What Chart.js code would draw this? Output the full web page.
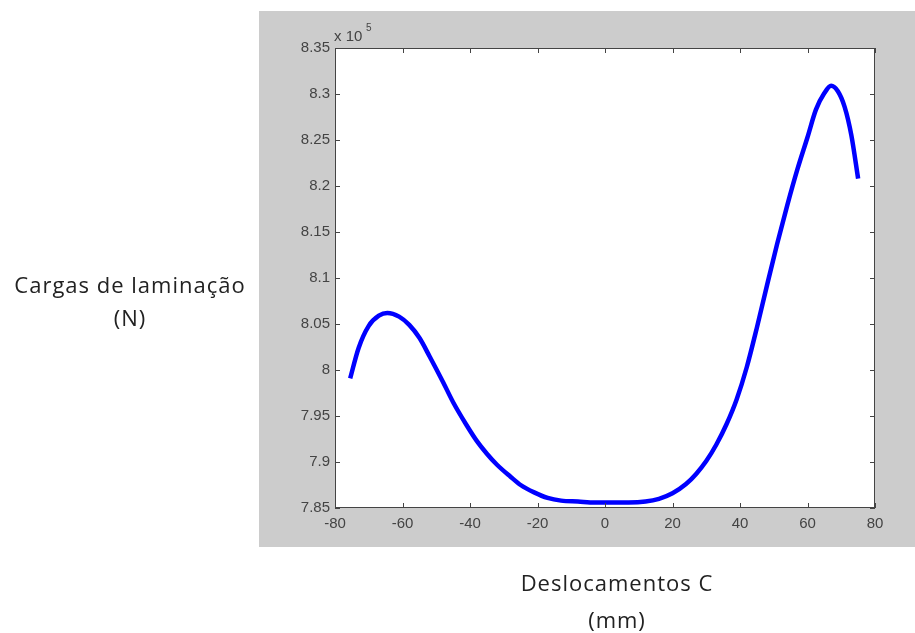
<!DOCTYPE html>
<html>
<head>
<meta charset="utf-8">
<script src="https://cdn.jsdelivr.net/npm/chart.js@4"></script>
<style>
  body { margin: 0; background: #fff; }
</style>
</head>
<body>
<canvas id="myChart" width="915" height="633"></canvas>
<script>
// displacement (mm)
const deslocamentos = [-75.5, -73, -70, -67, -64.5, -61, -58, -55, -52, -48, -45, -41, -38, -35, -32, -28, -25, -21, -17, -13, -8, -3, 2, 7, 12, 16, 20, 24, 27, 30, 33, 36, 39, 42, 45, 48, 51, 54, 57, 60, 62.5, 65, 67, 69, 71, 73, 75];
// rolling load (x 10^5 N)
const cargas = [7.991, 8.024, 8.048, 8.059, 8.062, 8.058, 8.049, 8.035, 8.015, 7.987, 7.965, 7.940, 7.923, 7.909, 7.897, 7.884, 7.875, 7.867, 7.861, 7.858, 7.857, 7.856, 7.856, 7.856, 7.857, 7.860, 7.866, 7.876, 7.887, 7.901, 7.919, 7.941, 7.968, 8.003, 8.046, 8.092, 8.137, 8.179, 8.218, 8.253, 8.283, 8.301, 8.309, 8.303, 8.286, 8.255, 8.208];

const xTicks = [-80, -60, -40, -20, 0, 20, 40, 60, 80];
const yTicks = [7.85, 7.9, 7.95, 8, 8.05, 8.1, 8.15, 8.2, 8.25, 8.3, 8.35];

const points = deslocamentos.map((x, i) => ({ x: x, y: cargas[i] }));

const tickFont = { family: "'Liberation Sans', Arial, sans-serif", size: 15 };
const labelFont = "22px 'Open Sans', sans-serif";

// grey figure panel, boxed axes with inward ticks, titles
const matlabFrame = {
  id: 'matlabFrame',
  beforeDraw(chart) {
    const ctx = chart.ctx;
    const a = chart.chartArea;
    ctx.save();
    ctx.fillStyle = '#ffffff';
    ctx.fillRect(0, 0, chart.width, chart.height);
    ctx.fillStyle = '#cccccc';
    ctx.fillRect(259, 11, 656, 536);
    ctx.fillStyle = '#ffffff';
    ctx.fillRect(a.left, a.top, a.right - a.left, a.bottom - a.top);
    ctx.restore();
  },
  afterDraw(chart) {
    const ctx = chart.ctx;
    const a = chart.chartArea;
    const xs = chart.scales.x, ys = chart.scales.y;
    const len = 5;
    ctx.save();
    ctx.strokeStyle = '#444';
    ctx.lineWidth = 1;
    ctx.strokeRect(a.left + 0.5, a.top + 0.5, a.right - a.left - 1, a.bottom - a.top - 1);
    ctx.beginPath();
    xTicks.forEach(v => {
      const px = Math.round(xs.getPixelForValue(v)) + 0.5;
      ctx.moveTo(px, a.bottom); ctx.lineTo(px, a.bottom - len);
      ctx.moveTo(px, a.top); ctx.lineTo(px, a.top + len);
    });
    yTicks.forEach(v => {
      const py = Math.round(ys.getPixelForValue(v)) + 0.5;
      ctx.moveTo(a.left, py); ctx.lineTo(a.left + len, py);
      ctx.moveTo(a.right, py); ctx.lineTo(a.right - len, py);
    });
    ctx.stroke();

    // exponent above the y axis
    ctx.fillStyle = '#444';
    ctx.font = "15px 'Liberation Sans', Arial, sans-serif";
    ctx.textAlign = 'left';
    ctx.textBaseline = 'alphabetic';
    ctx.fillText('x 10', 334, 41);
    ctx.font = "10px 'Liberation Sans', Arial, sans-serif";
    ctx.fillText('5', 366, 31);

    // axis titles
    ctx.fillStyle = '#222';
    ctx.font = labelFont;
    ctx.letterSpacing = '1px';
    ctx.textAlign = 'center';
    ctx.textBaseline = 'middle';
    ctx.fillText('Cargas de laminação', 130, 287);
    ctx.fillText('(N)', 130, 320);
    ctx.fillText('Deslocamentos C', 617, 585);
    ctx.fillText('(mm)', 617, 622);
    ctx.restore();
  }
};

const data = {
  datasets: [{
    data: points,
    showLine: true,
    borderColor: '#0000ff',
    borderWidth: 4.5,
    pointRadius: 0,
    cubicInterpolationMode: 'monotone',
    fill: false
  }]
};

const options = {
  responsive: false,
  animation: false,
  layout: { padding: { top: 48, right: 40, left: 0, bottom: 0 } },
  plugins: {
    legend: { display: false },
    tooltip: { enabled: false }
  },
  scales: {
    x: {
      type: 'linear',
      min: -80,
      max: 80,
      afterFit(scale) { scale.height = 125; },
      afterBuildTicks(scale) { scale.ticks = xTicks.map(v => ({ value: v })); },
      grid: { display: false, drawTicks: false },
      border: { display: false },
      ticks: { color: '#444', font: tickFont, padding: 7, autoSkip: false, maxRotation: 0 }
    },
    y: {
      type: 'linear',
      min: 7.85,
      max: 8.35,
      afterFit(scale) { scale.width = 335; },
      afterBuildTicks(scale) { scale.ticks = yTicks.map(v => ({ value: v })); },
      grid: { display: false, drawTicks: false },
      border: { display: false },
      ticks: {
        color: '#444',
        font: tickFont,
        padding: 5,
        callback: v => String(+v.toFixed(2))
      }
    }
  }
};

const config = {
  type: 'scatter',
  data,
  options,
  plugins: [matlabFrame]
};

const myChart = new Chart(document.getElementById('myChart'), config);
</script>
</body>
</html>
